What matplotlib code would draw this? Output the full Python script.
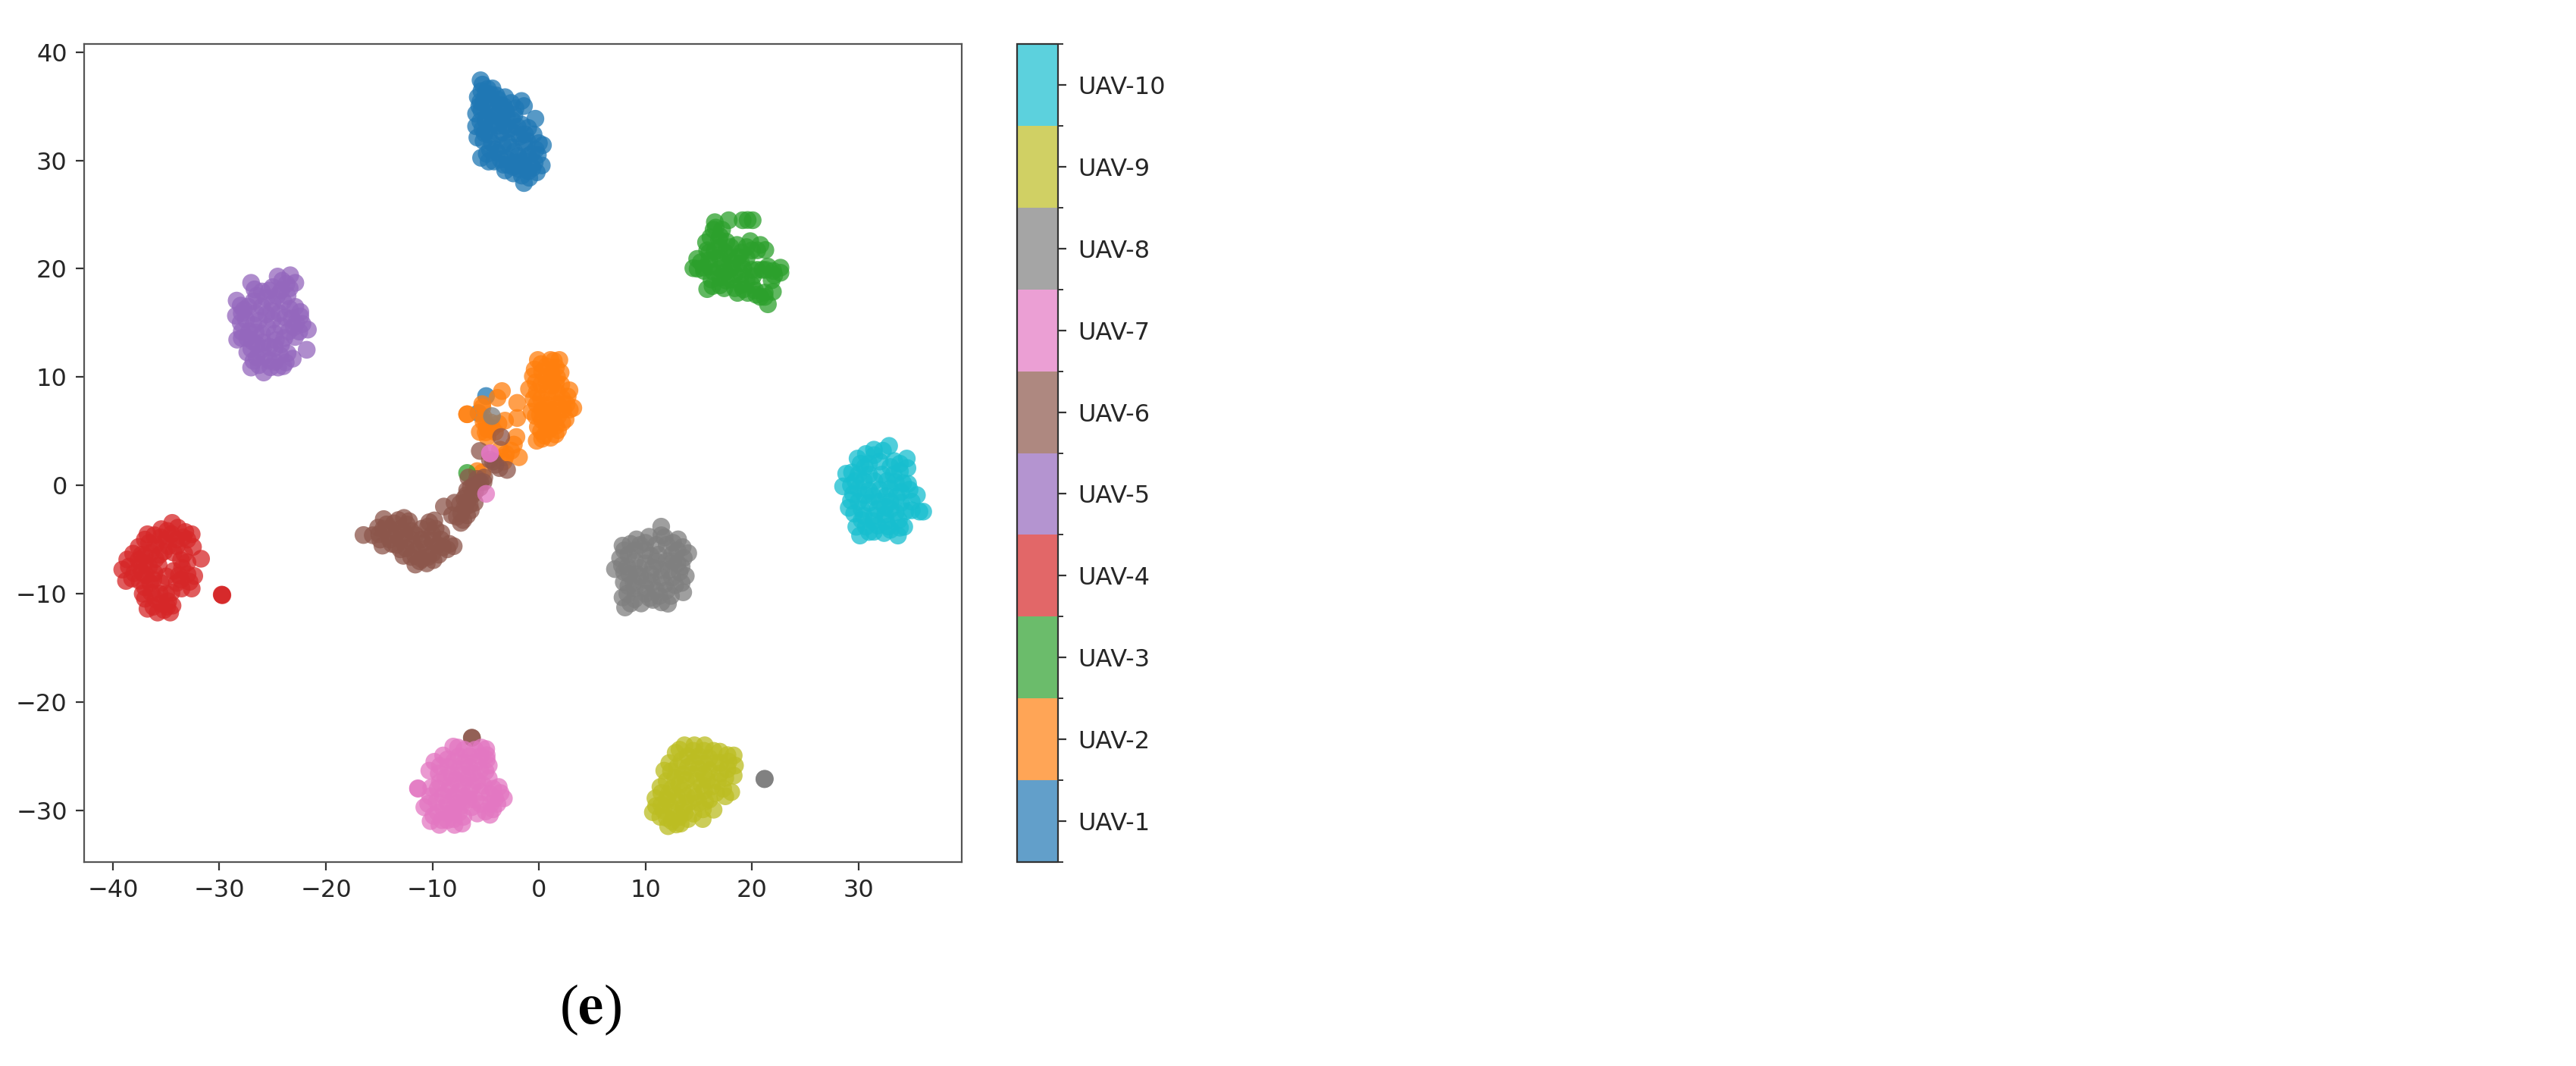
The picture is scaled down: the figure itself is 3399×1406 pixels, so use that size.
import numpy as np
import matplotlib
matplotlib.use('Agg')
import matplotlib.pyplot as plt
from matplotlib.colors import BoundaryNorm
from matplotlib.cm import ScalarMappable

plt.rcParams['mathtext.fontset'] = 'stix'

W, H = 3399, 1406

class_names = ['UAV-1', 'UAV-2', 'UAV-3', 'UAV-4', 'UAV-5',
               'UAV-6', 'UAV-7', 'UAV-8', 'UAV-9', 'UAV-10']
x_ticks = [-40, -30, -20, -10, 0, 10, 20, 30]
y_ticks = [-30, -20, -10, 0, 10, 20, 30, 40]

# t-SNE points, (x, y) per class
uav_1 = [(-5.48, 37.4), (-5.3, 37.0), (-4.36, 36.65), (-3.17, 35.84), (-1.63, 35.49), (-1.4, 35.02), (-0.33, 33.85),
         (0.38, 31.41), (0.27, 29.54), (-1.4, 27.91), (-3.17, 29.07), (-4.72, 29.89), (-5.43, 30.24), (-5.78, 32.11),
         (-5.9, 33.15), (-5.9, 34.32), (-5.74, 35.84), (-4.5, 36.1), (-4.7, 35.0), (-4.4, 34.4), (-4.6, 33.1),
         (-4.4, 31.6), (-3.1, 34.6), (-3.2, 33.2), (-2.9, 31.6), (-3.0, 30.1), (-1.6, 33.3), (-1.4, 31.6), (-1.5, 30.0),
         (-0.3, 31.0), (-0.4, 29.8), (-0.5, 32.4), (-2.3, 34.2), (-5.2, 35.4), (-5.0, 33.7), (-5.1, 32.5), (-3.8, 35.6),
         (-3.7, 32.4), (-3.9, 30.7), (-2.2, 32.5), (-2.3, 30.8), (-2.4, 29.4), (-1.0, 29.0), (-0.7, 30.6), (-3.6, 33.9),
         (-5.6, 35.0), (-5.0, 36.2), (-4.1, 31.0), (-1.9, 29.2), (-3.3, 35.0),
         (-5.4, 36.4), (-4.8, 36.6), (-4.0, 36.0), (-5.5, 35.4), (-4.3, 35.4), (-3.6, 35.1), (-2.6, 35.3), (-2.2, 34.8),
         (-5.4, 34.6), (-4.9, 34.0), (-3.9, 34.2), (-3.0, 34.0), (-2.5, 33.7), (-5.5, 33.6), (-4.3, 33.6), (-3.8, 33.2),
         (-2.8, 32.9), (-2.0, 33.1), (-5.3, 32.9), (-4.7, 32.4), (-3.4, 32.6), (-1.8, 32.2), (-5.2, 31.8), (-4.6, 31.0),
         (-3.4, 31.4), (-2.6, 31.2), (-1.1, 31.8), (-1.9, 30.4), (-1.0, 30.4), (-0.1, 30.5), (0.0, 31.6), (-4.9, 30.6),
         (-3.6, 30.1), (-2.9, 29.6), (-2.1, 29.8), (-1.4, 29.4), (-0.6, 29.3), (-1.6, 28.6), (-0.9, 28.4), (-3.3, 29.6),
         (-4.2, 29.9), (-0.2, 28.9), (-2.4, 28.8), (-1.0, 33.0), (-1.3, 32.4)]
uav_2 = [(-0.1, 11.58), (1.09, 11.58), (1.92, 11.58), (2.04, 10.42), (-0.57, 10.07), (-0.93, 8.9), (2.87, 8.78),
         (3.23, 7.15), (-0.69, 6.8), (-0.21, 4.12), (1.56, 4.7), (2.51, 6.1), (0.3, 10.5), (1.2, 10.3), (0.2, 9.3),
         (1.2, 9.2), (2.1, 9.3), (0.2, 8.0), (1.2, 8.0), (2.2, 8.0), (0.3, 7.0), (1.3, 7.0), (2.3, 7.0), (0.3, 6.0),
         (1.3, 6.0), (0.2, 5.0), (1.0, 5.2), (0.5, 4.6), (0.7, 11.0), (1.6, 10.9), (-0.2, 8.6), (0.8, 8.6), (1.7, 8.6),
         (-0.2, 7.5), (0.8, 7.4), (1.8, 7.5), (0.8, 6.5), (1.8, 6.4), (0.7, 5.6), (1.6, 5.5),
         (0.2, 11.2), (1.4, 11.5), (-0.4, 10.7), (0.7, 10.0), (1.7, 10.0), (-0.3, 9.5), (-0.5, 8.0), (2.7, 8.2),
         (2.6, 7.5), (-0.3, 6.4), (0.1, 6.5), (2.2, 5.8), (-0.1, 5.4), (1.8, 5.1), (0.3, 4.3), (1.1, 4.4), (2.9, 7.0),
         (0.7, 9.6), (1.6, 9.5), (1.0, 6.8), (-3.47, 8.71), (-3.89, 8.08), (-2.04, 7.62), (-5.32, 7.5), (-5.3, 7.2),
         (-6.74, 6.57), (-6.74, 6.57), (-2.04, 6.22), (-3.18, 5.98), (-5.2, 5.87), (-5.55, 4.93), (-4.84, 4.47),
         (-4.13, 4.93), (-2.11, 4.47), (-2.35, 3.77), (-3.18, 2.6), (-3.1, 2.9), (-1.87, 2.6), (-3.65, 3.3),
         (-5.79, 1.32), (-4.84, 5.17), (-4.9, 5.5), (-4.4, 5.3), (-5.0, 4.9), (-5.2, 6.3), (-4.5, 5.8), (-3.8, 5.7),
         (-2.6, 3.2), (-5.3, 1.2), (-3.3, 2.2)]
uav_3 = [(17.82, 24.48), (19.13, 24.48), (20.07, 24.48), (19.6, 24.5), (16.52, 24.3), (16.4, 23.6), (15.69, 22.43),
         (14.86, 20.91), (14.5, 20.05), (15.8, 18.12), (16.99, 18.47), (18.65, 17.77), (19.6, 17.77), (21.5, 16.72),
         (21.97, 17.88), (22.68, 19.63), (22.68, 20.1), (21.26, 21.73), (19.84, 22.55), (20.79, 22.2), (21.85, 18.93),
         (17.0, 23.0), (17.0, 22.0), (17.0, 21.0), (17.0, 20.0), (17.0, 19.2), (16.0, 21.5), (16.0, 20.2), (15.5, 19.8),
         (18.0, 22.0), (18.0, 21.0), (18.0, 20.0), (18.0, 19.0), (19.0, 21.5), (19.0, 20.5), (19.0, 19.5), (19.0, 18.5),
         (20.0, 21.7), (20.0, 19.9), (20.0, 18.5), (21.0, 19.9), (21.2, 17.8), (22.0, 19.8),
         (16.6, 23.8), (17.2, 23.6), (16.1, 22.9), (16.9, 22.7), (17.6, 22.5), (15.8, 21.7), (16.5, 21.6), (17.5, 21.5),
         (15.2, 20.6), (16.0, 20.8), (17.3, 20.5), (18.2, 20.6), (14.9, 20.0), (15.5, 20.1), (16.4, 19.7), (17.5, 19.7),
         (18.4, 19.5), (16.2, 19.0), (17.6, 18.9), (16.3, 18.4), (18.4, 18.2), (19.2, 18.1), (20.3, 18.0), (20.8, 17.4),
         (21.2, 17.4), (19.5, 22.0), (20.5, 21.7), (19.5, 21.0), (19.2, 20.0), (20.5, 19.9), (21.5, 20.2), (20.1, 19.3),
         (22.1, 19.4), (21.3, 19.9), (19.5, 18.9), (20.4, 17.6), (17.4, 18.2), (18.7, 21.1), (18.6, 22.2)]
uav_4 = [(-34.43, -3.46), (-32.6, -4.51), (-32.48, -5.68), (-31.72, -6.77), (-32.36, -8.36), (-32.6, -9.52),
         (-33.55, -9.52), (-34.62, -11.74), (-35.8, -11.74), (-36.75, -11.39), (-36.99, -10.46), (-38.77, -8.82),
         (-39.12, -7.77), (-38.65, -6.84), (-37.58, -5.68), (-36.75, -4.51), (-35.45, -4.04), (-37.0, -6.5),
         (-36.0, -5.5), (-35.0, -5.0), (-34.0, -5.0), (-33.6, -6.9), (-37.5, -7.5), (-36.6, -7.5), (-36.0, -6.8),
         (-36.5, -9.0), (-37.5, -8.8), (-35.5, -9.0), (-34.3, -7.9), (-33.5, -7.6), (-33.0, -8.2), (-34.0, -9.0),
         (-35.0, -10.0), (-36.0, -10.5), (-34.8, -10.7), (-36.6, -5.3), (-35.5, -4.8), (-34.5, -4.5), (-33.4, -4.8),
         (-37.3, -6.4), (-36.4, -6.2), (-35.2, -6.1), (-34.3, -6.2), (-38.0, -8.1), (-36.9, -8.3), (-36.1, -8.1),
         (-36.4, -9.9), (-35.5, -10.9), (-34.9, -11.2), (-33.8, -8.3), (-33.0, -7.1),
         (-37.0, -5.0), (-36.1, -4.6), (-34.9, -4.2), (-33.9, -3.9), (-33.2, -4.3), (-33.0, -5.0), (-38.1, -6.3),
         (-37.6, -6.9), (-38.5, -7.5), (-37.0, -7.2), (-35.7, -7.4), (-35.6, -6.4), (-34.8, -5.6), (-34.0, -5.6),
         (-33.3, -6.3), (-38.2, -8.6), (-37.3, -8.0), (-37.0, -9.4), (-36.2, -8.7), (-35.0, -8.4), (-33.6, -8.7),
         (-37.2, -10.0), (-36.2, -11.2), (-35.2, -11.5), (-35.6, -10.0), (-34.5, -9.9), (-32.8, -8.9), (-34.4, -11.1)]
uav_4_outlier = [(-29.75, -10.11), (-29.72, -10.14), (-29.78, -10.08)]
uav_5 = [(-23.35, 19.4), (-22.87, 18.7), (-24.53, 19.28), (-27.02, 18.7), (-28.38, 17.06), (-28.45, 15.66),
         (-28.33, 13.45), (-21.8, 12.52), (-21.69, 14.38), (-22.4, 16.01), (-22.87, 16.48), (-23.11, 11.7),
         (-24.49, 10.88), (-25.84, 10.42), (-27.02, 10.88), (-27.38, 12.28), (-23.77, 11.35), (-26.5, 17.5),
         (-25.3, 18.0), (-24.2, 18.0), (-27.3, 16.5), (-26.0, 16.5), (-25.0, 16.8), (-24.0, 17.0), (-27.5, 15.3),
         (-26.3, 15.2), (-25.0, 15.3), (-23.8, 15.5), (-22.8, 15.0), (-27.2, 14.2), (-26.0, 14.0), (-24.8, 14.0),
         (-23.5, 14.2), (-22.5, 14.2), (-26.5, 13.0), (-25.3, 12.8), (-24.2, 13.0), (-26.5, 11.8), (-25.3, 11.5),
         (-24.3, 12.0), (-23.7, 18.6), (-26.0, 17.9), (-26.8, 17.0), (-24.6, 17.5), (-25.6, 15.8), (-24.4, 15.9),
         (-23.4, 16.3), (-26.8, 14.8), (-25.5, 14.6), (-24.2, 14.7), (-27.4, 13.6), (-25.9, 13.2), (-24.7, 13.4),
         (-25.8, 11.9), (-24.8, 11.4), (-27.9, 15.9), (-23.2, 15.4),
         (-26.7, 18.1), (-25.6, 17.3), (-25.0, 18.3), (-24.1, 18.9), (-23.4, 18.2), (-23.6, 17.5), (-28.0, 16.6),
         (-27.7, 16.2), (-28.0, 15.0), (-27.9, 14.2), (-27.9, 13.6), (-22.4, 15.6), (-22.2, 14.9), (-23.0, 14.6),
         (-22.9, 13.7), (-23.9, 13.6), (-24.8, 12.7), (-26.9, 13.3), (-27.0, 12.6), (-25.9, 12.6), (-23.6, 12.2),
         (-26.3, 11.1), (-25.2, 10.9), (-24.0, 11.0), (-26.8, 11.5), (-26.6, 15.9), (-25.1, 16.1), (-26.6, 14.1)]
uav_6 = [(-16.47, -4.58), (-14.57, -3.11), (-12.67, -3.0), (-9.82, -3.23), (-9.16, -4.4), (-8.0, -5.61),
         (-10.53, -7.2), (-11.6, -7.31), (-12.72, -6.5), (-14.69, -5.56), (-15.0, -4.5), (-14.0, -4.0), (-13.0, -4.0),
         (-12.0, -4.2), (-14.0, -5.0), (-13.0, -5.0), (-12.0, -5.0), (-11.0, -5.0), (-10.0, -4.5), (-9.5, -5.5),
         (-10.5, -5.8), (-11.5, -6.0), (-12.5, -5.8), (-11.0, -6.8), (-10.0, -6.3), (-13.5, -4.6), (-11.0, -4.0),
         (-14.6, -4.0), (-13.6, -3.5), (-12.4, -3.6), (-10.4, -3.8), (-9.2, -5.0), (-8.6, -5.9), (-13.4, -5.5),
         (-11.8, -5.5), (-10.8, -5.3), (-12.0, -6.6), (-9.9, -6.9),
         (-15.6, -4.6), (-15.1, -3.9), (-14.9, -5.0), (-14.3, -3.6), (-13.2, -3.2), (-12.2, -3.3), (-12.6, -4.4),
         (-11.6, -4.6), (-13.8, -5.4), (-13.0, -5.9), (-11.6, -6.5), (-10.4, -6.6), (-9.4, -6.4), (-9.0, -5.7),
         (-10.3, -3.4), (-10.0, -5.1), (-11.2, -7.0), (-8.4, -5.4), (-9.7, -4.0),
         (-6.62, 0.73), (-5.13, 0.73), (-6.74, -0.43), (-5.55, -0.2), (-6.26, -0.9), (-7.92, -1.6), (-8.92, -1.95),
         (-8.16, -2.76), (-6.98, -2.06), (-7.33, -3.46), (-6.74, -2.76), (-6.03, -1.6), (-5.5, 0.3), (-6.1, 0.0),
         (-7.3, -2.6), (-7.0, -1.2), (-6.5, -1.8), (-7.1, -3.2), (-6.4, -0.2), (-5.8, 0.6), (-5.2, 0.3), (-6.8, -0.9),
         (-6.0, -0.6), (-7.4, -1.7), (-6.7, -1.5), (-6.4, -2.3), (-7.7, -2.9),
         (-3.54, 4.47), (-5.55, 3.18), (-2.99, 1.43), (-4.08, 1.9), (-4.6, 2.37), (-3.7, 1.6), (-4.3, 2.2),
         (-6.3, -23.29), (-6.28, -23.31)]
uav_7 = [(-4.6, 2.95), (-4.58, 2.97), (-4.96, -0.78),
         (-11.36, -27.96), (-11.34, -28.0), (-10.29, -26.33), (-9.82, -25.51), (-8.99, -24.93), (-8.04, -24.11),
         (-4.95, -24.34), (-4.71, -25.86), (-4.71, -27.03), (-3.77, -27.84), (-3.29, -28.89), (-4.6, -30.41),
         (-5.78, -30.29), (-7.21, -31.22), (-7.92, -31.34), (-9.34, -31.34), (-10.17, -30.99), (-10.76, -29.71),
         (-7.5, -25.0), (-6.5, -25.0), (-5.5, -25.0), (-8.5, -26.0), (-7.5, -26.2), (-6.5, -26.0), (-5.5, -26.3),
         (-8.8, -27.0), (-7.8, -27.2), (-6.7, -27.0), (-5.8, -27.3), (-9.5, -28.0), (-8.5, -28.2), (-7.5, -28.3),
         (-6.5, -28.2), (-5.5, -28.3), (-4.6, -28.5), (-9.6, -29.2), (-8.6, -29.3), (-7.6, -29.3), (-6.6, -29.0),
         (-5.5, -29.4), (-4.5, -29.4), (-9.5, -30.2), (-8.5, -30.3), (-7.5, -30.2), (-7.0, -24.4), (-6.0, -24.4),
         (-8.0, -25.5), (-7.0, -25.6), (-6.0, -25.6), (-8.2, -26.7), (-7.2, -26.7), (-6.2, -26.6), (-9.0, -28.6),
         (-8.0, -28.7), (-7.0, -28.7), (-6.0, -29.0), (-9.0, -29.8), (-8.0, -29.8), (-4.9, -24.9), (-8.6, -30.9),
         (-4.1, -28.9),
         (-7.6, -24.2), (-5.4, -24.2), (-9.3, -25.9), (-8.6, -25.3), (-9.4, -26.6), (-5.0, -26.4), (-4.9, -25.3),
         (-9.3, -27.4), (-10.1, -27.9), (-10.2, -28.7), (-10.4, -29.4), (-8.3, -27.7), (-7.2, -27.6), (-6.2, -27.7),
         (-5.2, -27.7), (-4.3, -28.0), (-3.9, -29.4), (-4.3, -29.9), (-5.0, -30.1), (-6.3, -29.7), (-7.1, -30.6),
         (-9.9, -30.5), (-9.1, -30.9), (-8.0, -30.8), (-7.3, -29.6), (-3.6, -28.4)]
uav_8 = [(-4.41, 6.4),
         (11.48, -3.81), (11.5, -4.6), (13.07, -4.98), (14.02, -6.26), (13.79, -8.36), (13.55, -9.87), (12.12, -10.92),
         (10.7, -10.57), (8.09, -11.27), (7.85, -10.34), (7.14, -7.73), (7.85, -5.56), (9.16, -4.98), (10.34, -4.74),
         (7.62, -6.72), (7.97, -8.94), (9.0, -6.0), (10.0, -6.0), (11.0, -5.5), (12.0, -5.5), (13.0, -6.0), (9.0, -7.0),
         (10.0, -7.2), (11.0, -7.0), (12.0, -7.0), (13.0, -7.2), (8.5, -8.2), (9.5, -8.4), (10.5, -8.2), (11.5, -8.5),
         (12.5, -8.5), (9.0, -9.5), (10.0, -9.5), (11.0, -9.7), (12.0, -9.7), (9.0, -10.5), (10.0, -10.0), (8.4, -6.4),
         (9.5, -5.5), (10.5, -6.5), (12.5, -6.4), (8.3, -7.5), (9.4, -7.6), (11.5, -7.8), (13.2, -8.0), (8.4, -9.3),
         (10.6, -9.0), (12.8, -9.2), (9.6, -10.9), (11.3, -10.2),
         (8.6, -5.4), (10.0, -5.3), (11.8, -4.8), (12.6, -5.3), (13.5, -5.7), (13.6, -6.7), (8.0, -6.0), (7.8, -7.4),
         (8.0, -8.0), (9.2, -8.2), (10.7, -7.6), (12.2, -7.8), (13.4, -7.5), (12.6, -7.0), (13.4, -9.0), (12.4, -10.2),
         (11.5, -10.8), (10.4, -10.4), (8.6, -10.9), (8.3, -10.0), (8.9, -9.0), (10.2, -8.8), (11.8, -9.1), (11.2, -6.4)]
uav_8_outlier = [(21.19, -27.1), (21.17, -27.12), (21.21, -27.08)]
uav_9 = [(13.67, -23.99), (14.6, -23.99), (15.57, -23.99), (16.99, -24.58), (18.29, -24.93), (18.41, -25.86),
         (18.29, -26.79), (18.06, -28.31), (16.4, -29.94), (15.38, -30.8), (13.31, -31.22), (12.13, -31.46),
         (10.7, -30.17), (10.94, -28.89), (11.41, -27.84), (11.77, -26.33), (12.24, -25.63), (12.84, -24.69),
         (14.0, -25.0), (15.0, -25.0), (16.0, -25.2), (17.0, -25.6), (13.0, -26.0), (14.0, -26.0), (15.0, -26.2),
         (16.0, -26.3), (17.0, -26.6), (12.8, -27.0), (13.8, -27.2), (14.8, -27.3), (15.8, -27.2), (16.8, -27.3),
         (12.5, -28.0), (13.5, -28.2), (14.5, -28.3), (15.5, -28.2), (16.6, -28.4), (12.0, -29.0), (13.0, -29.2),
         (14.0, -29.3), (15.0, -29.3), (11.7, -30.0), (12.7, -30.2), (13.7, -30.2), (14.5, -30.3), (12.5, -31.0),
         (14.5, -24.5), (15.5, -25.7), (13.5, -26.7), (15.3, -27.7), (17.3, -28.0), (12.9, -28.6), (14.7, -28.8),
         (11.5, -29.5), (13.2, -30.6), (16.0, -29.0), (17.8, -25.5),
         (13.2, -24.4), (15.5, -24.5), (16.4, -24.5), (17.7, -24.9), (13.4, -25.4), (14.5, -25.6), (16.5, -25.7),
         (12.4, -26.4), (14.4, -26.7), (15.5, -26.7), (17.7, -26.2), (12.0, -27.3), (13.2, -27.6), (16.2, -27.8),
         (17.5, -27.0), (11.5, -28.4), (12.2, -28.5), (13.9, -28.7), (17.5, -28.7), (15.6, -29.2), (11.0, -29.6),
         (12.4, -29.7), (13.6, -29.7), (15.4, -29.9), (12.0, -30.7), (14.0, -30.8), (12.9, -31.3), (11.4, -30.6)]
uav_10 = [(32.88, 3.65), (31.46, 3.3), (29.92, 2.48), (28.85, 1.08), (28.56, -0.09), (29.09, -2.07), (29.8, -3.82),
          (30.15, -4.63), (31.46, -4.28), (32.41, -4.4), (33.71, -4.63), (34.3, -3.82), (36.08, -2.42), (35.73, -2.42),
          (35.49, -0.9), (34.66, 0.15), (34.54, 2.48), (33.36, 2.25), (31.0, 2.0), (32.0, 2.2), (30.0, 1.0), (31.0, 1.0),
          (32.2, 1.0), (33.3, 1.0), (30.0, -0.3), (31.0, -0.5), (32.0, -0.4), (33.0, -0.3), (34.0, -0.6), (30.0, -1.5),
          (31.0, -1.6), (32.0, -1.5), (33.0, -1.5), (34.0, -1.6), (35.0, -1.5), (30.5, -2.8), (31.5, -2.8), (32.5, -2.7),
          (33.5, -2.5), (30.7, -3.8), (31.8, -3.7), (32.8, -3.8), (31.5, 2.8), (30.6, 1.7), (33.9, 2.0), (31.5, 0.4),
          (32.7, 0.4), (29.5, -0.8), (29.7, 0.4), (31.4, -1.0), (32.6, -1.0), (33.6, -1.0), (30.3, -2.2), (31.4, -3.3),
          (32.6, -3.3), (33.8, -3.2),
          (32.3, 3.2), (30.7, 2.9), (30.2, 2.0), (29.4, 1.2), (29.3, 0.0), (33.9, 1.3), (33.0, 1.7), (34.6, 1.6),
          (30.5, 0.4), (34.2, 0.2), (34.8, -0.4), (29.3, -1.4), (29.6, -2.6), (30.3, -3.2), (33.0, -2.2), (34.4, -2.4),
          (35.0, -2.3), (31.8, -2.2), (33.0, -4.1), (31.0, -4.3), (30.6, -0.9), (32.5, -2.0), (33.5, 0.3), (33.9, -3.9)]
# stray points of other classes inside the orange group
uav_1_stray = [(-4.96, 8.25), (-5.67, 6.68)]
uav_3_stray = [(-6.74, 1.15)]

classes = [uav_1 + uav_1_stray, uav_2, uav_3 + uav_3_stray, uav_4 + uav_4_outlier, uav_5,
           uav_6, uav_7, uav_8 + uav_8_outlier, uav_9, uav_10]

xs, ys, labels = [], [], []
for i, pts in enumerate(classes):
    for px, py in pts:
        xs.append(px)
        ys.append(py)
        labels.append(i)

bounds = np.arange(11)
cmap = plt.get_cmap('tab10')
norm = BoundaryNorm(bounds, 10)

fig = plt.figure(figsize=(W / 100, H / 100), dpi=100)
ax = fig.add_axes([111 / W, 1 - 1137 / H, 1158 / W, 1079 / H])
ax.scatter(xs, ys, c=np.array(labels) + 0.5, cmap=cmap, norm=norm, s=285, alpha=0.75, linewidths=0)
ax.set_xlim(-42.7, 39.7)
ax.set_ylim(-34.77, 40.75)
ax.set_xticks(x_ticks)
ax.set_yticks(y_ticks)
ax.tick_params(labelsize=23, length=8, width=1.6, pad=8, color='#333333', labelcolor='#262626')
for sp in ax.spines.values():
    sp.set_linewidth(1.6)
    sp.set_color('#555555')

cax = fig.add_axes([1342 / W, 1 - 1137 / H, 54 / W, 1079 / H])
sm = ScalarMappable(norm=norm, cmap=cmap)
cb = fig.colorbar(sm, cax=cax, alpha=0.7, ticks=bounds[:-1] + 0.5)
cb.set_ticklabels(class_names)
cb.ax.yaxis.set_ticks(bounds, minor=True)
cb.ax.tick_params(which='major', labelsize=23, length=8, width=1.6, pad=11, color='#333333', labelcolor='#262626')
cb.ax.tick_params(which='minor', length=5, width=1.4, color='#333333')
cb.outline.set_linewidth(1.6)
cb.outline.set_edgecolor('#333333')

fig.text(779 / W, 1 - 1332 / H, r'($\mathbf{e}$)', family='Liberation Serif', fontsize=54, ha='center', va='center', color='black')

fig.savefig('out.png', dpi=100)
